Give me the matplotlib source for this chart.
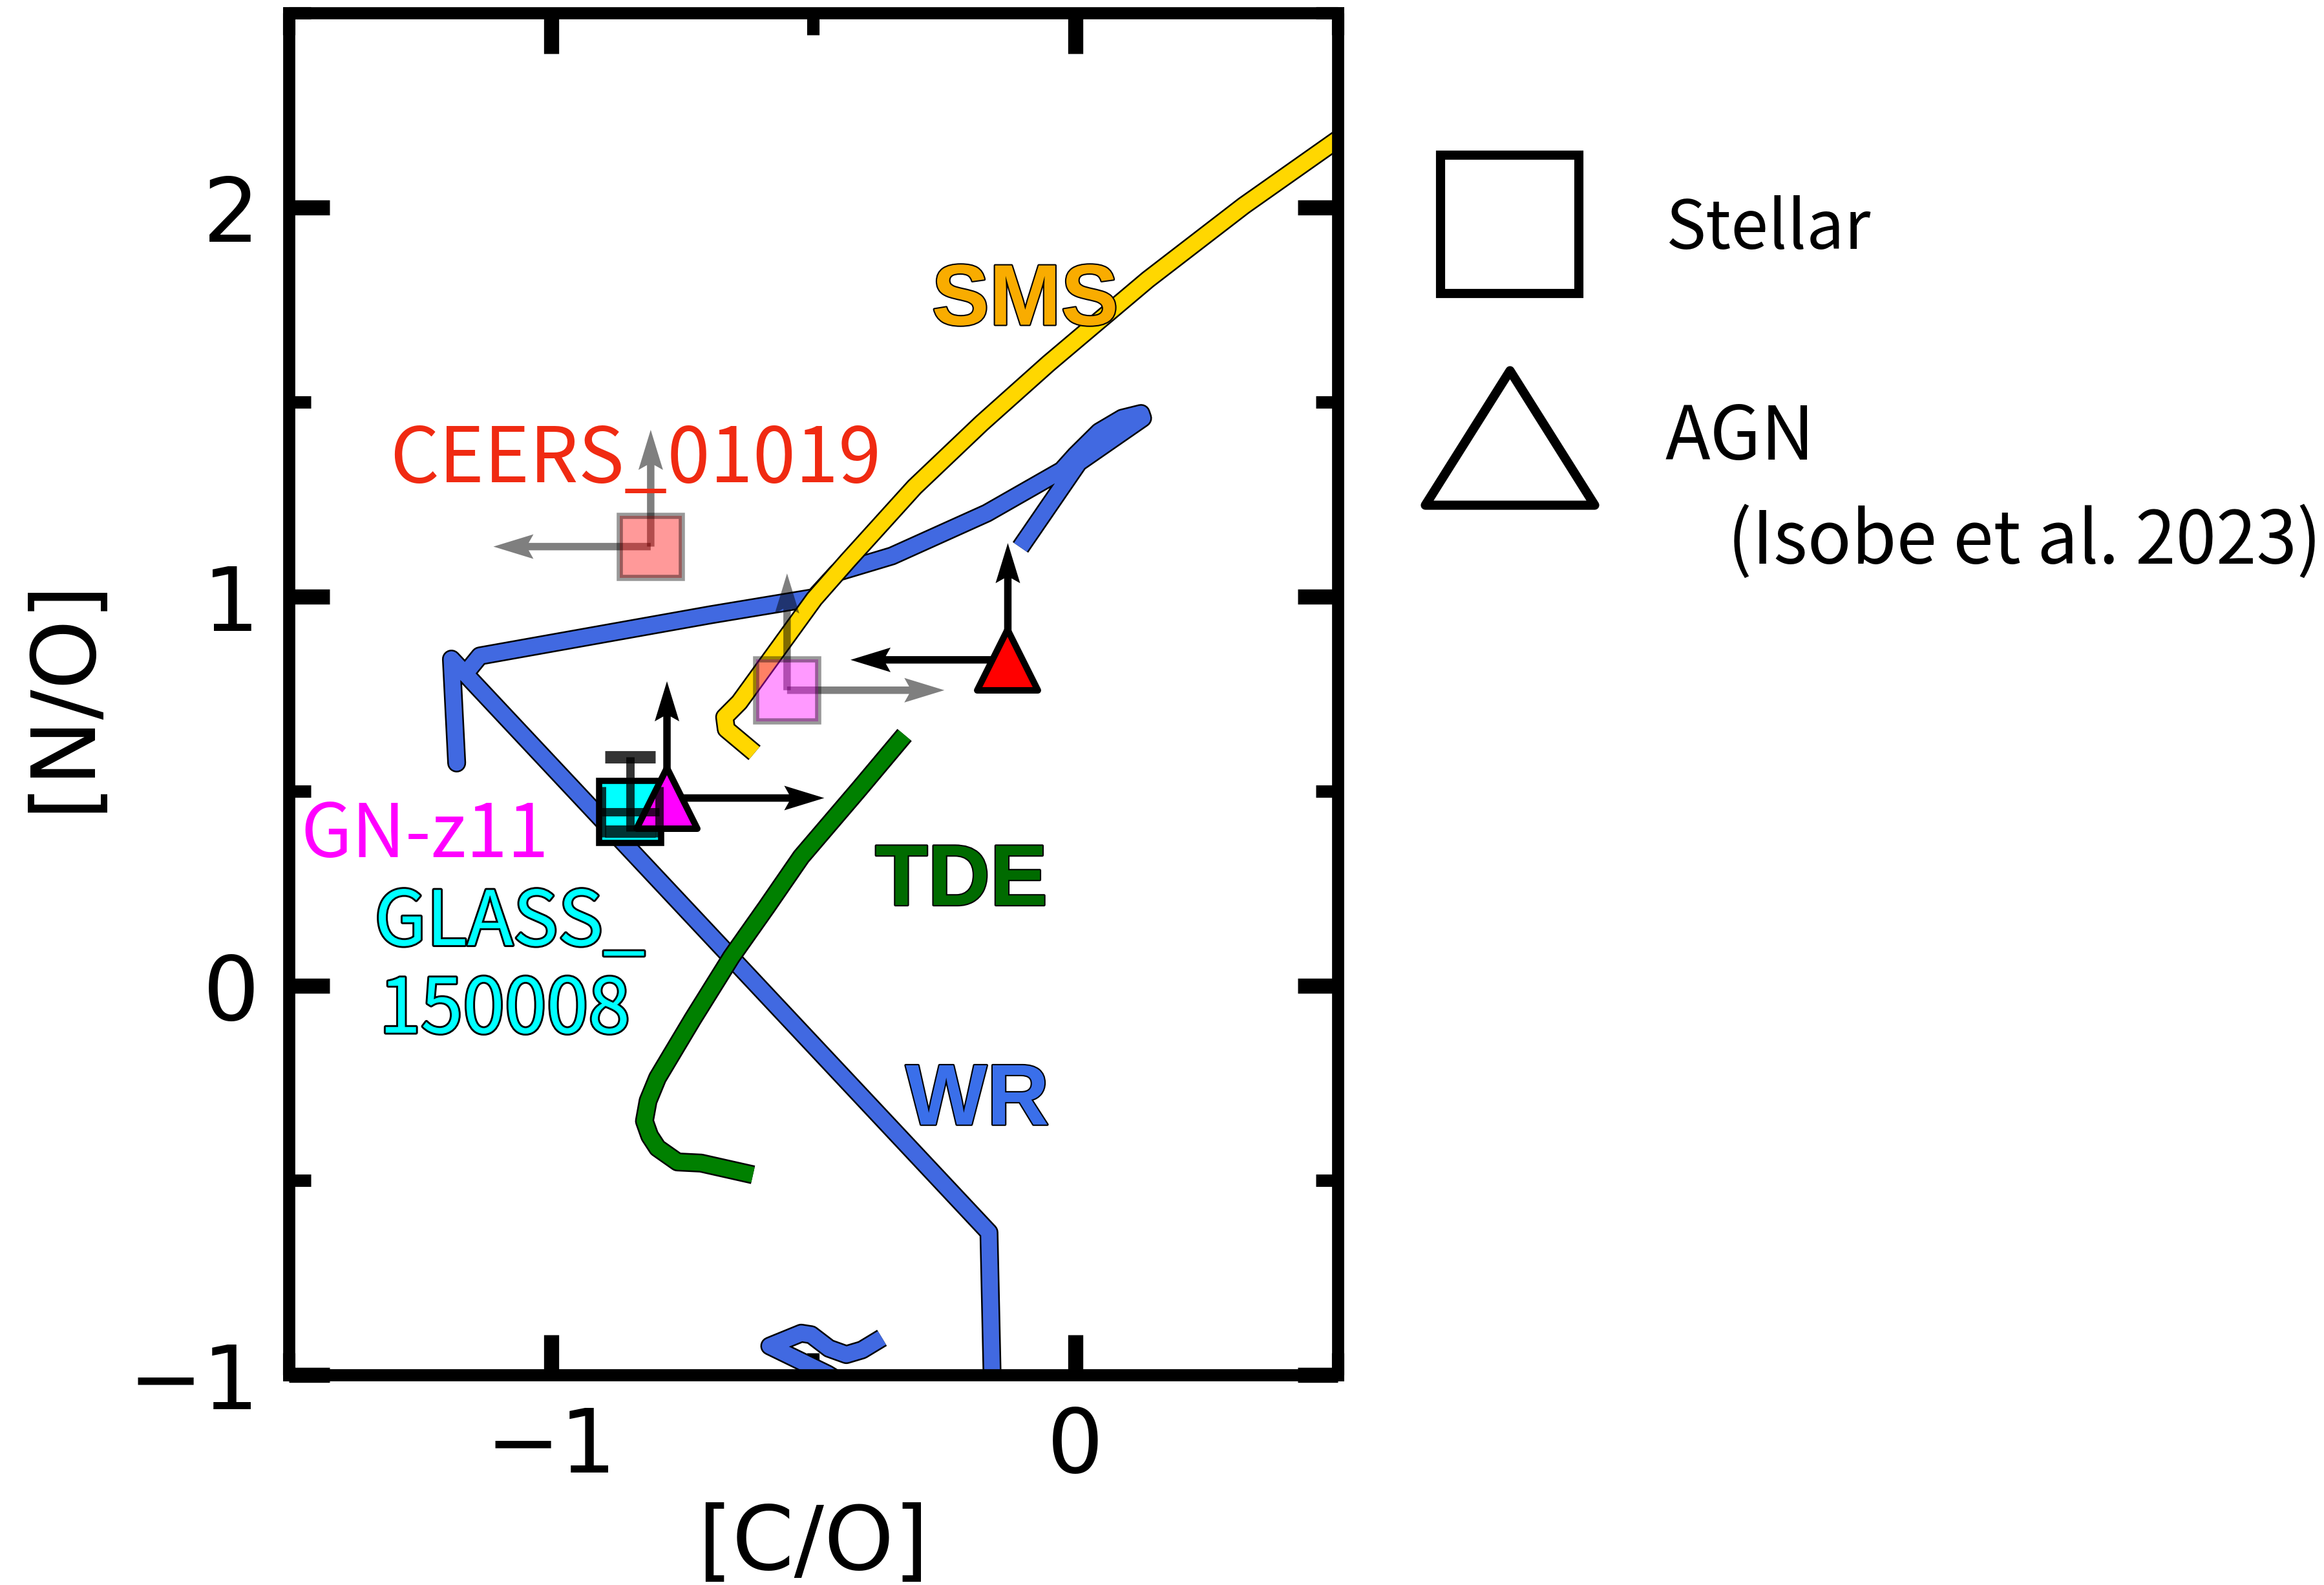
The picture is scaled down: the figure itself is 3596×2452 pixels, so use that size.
import matplotlib
matplotlib.use("Agg")
import matplotlib.pyplot as plt
import matplotlib.patheffects as pe
from matplotlib.markers import MarkerStyle
from matplotlib.path import Path
from matplotlib.ticker import MultipleLocator

# ---- model tracks in the [C/O] - [N/O] plane ----
# Wolf-Rayet: upper branch with the loop and its short downward branch
wr_upper_co = [-1.165, -1.136, -0.695, -0.498, -0.454, -0.350, -0.169, -0.026,
               0.000, 0.045, 0.089, 0.125, 0.128, 0.006, -0.105]
wr_upper_no = [0.800, 0.848, 0.954, 0.998, 1.063, 1.105, 1.215, 1.325,
               1.364, 1.424, 1.459, 1.471, 1.459, 1.345, 1.127]
# Wolf-Rayet: short tail, long diagonal and the drop below the frame
wr_lower_co = [-1.180, -1.190, -0.165, -0.158]
wr_lower_no = [0.573, 0.840, -0.633, -1.060]
# Wolf-Rayet: small wiggle at the bottom
wr_wiggle_co = [-0.445, -0.473, -0.583, -0.523, -0.504, -0.470, -0.437, -0.407, -0.369]
wr_wiggle_no = [-1.020, -0.997, -0.925, -0.892, -0.896, -0.931, -0.947, -0.935, -0.904]

tde_co = [-0.326, -0.412, -0.523, -0.589, -0.656, -0.730, -0.797, -0.815, -0.822,
          -0.812, -0.797, -0.759, -0.714, -0.615]
tde_no = [0.645, 0.507, 0.332, 0.203, 0.075, -0.085, -0.236, -0.295, -0.347,
          -0.385, -0.416, -0.452, -0.455, -0.485]

sms_co = [-0.612, -0.666, -0.669, -0.641, -0.498, -0.434, -0.307, -0.179, -0.051,
          0.050, 0.138, 0.321, 0.500, 0.600]
sms_no = [0.599, 0.660, 0.691, 0.729, 0.995, 1.093, 1.282, 1.446, 1.600,
          1.715, 1.815, 2.005, 2.175, 2.260]

# ---- observed galaxies ----
# stellar (squares): CEERS_01019, GN-z11, GLASS_150008
star_co = [-0.810, -0.550, -0.849]
star_no = [1.129, 0.760, 0.448]
star_color = ["red", "magenta", "cyan"]
star_alpha = [0.4, 0.4, 1.0]
star_co_lim = [-1, 1, 0]      # -1: upper limit, +1: lower limit, 0: measured
star_no_lim = [1, 1, 0]

glass_co_err = [[0.055], [0.055]]
glass_no_err = [[0.051], [0.141]]

# AGN (triangles): CEERS_01019, GN-z11
agn_co = [-0.129, -0.779]
agn_no = [0.838, 0.483]
agn_color = ["red", "magenta"]
agn_co_lim = [-1, 1]
agn_no_lim = [1, 1]

limit_len = 0.3

fig = plt.figure(figsize=(3596 / 300, 2453 / 300), dpi=300)
ax = fig.add_axes([0.1243, 0.1323, 0.4513, 0.8591])
ax.set_xlim(-1.5, 0.5)
ax.set_ylim(-1, 2.5)


def draw_tracks(segments, color, z):
    # black underlay first so joined pieces share one outline
    for co, no, cap in segments:
        ax.plot(co, no, color="black", lw=7.0, solid_joinstyle="round",
                solid_capstyle=cap, zorder=z)
    for co, no, cap in segments:
        ax.plot(co, no, color=color, lw=5.8, solid_joinstyle="round",
                solid_capstyle=cap, zorder=z + 0.01)


draw_tracks([(wr_upper_co, wr_upper_no, "butt"),
             (wr_lower_co, wr_lower_no, "round"),
             (wr_wiggle_co, wr_wiggle_no, "butt")], "royalblue", 2.0)
draw_tracks([(tde_co, tde_no, "butt")], "green", 2.1)
draw_tracks([(sms_co, sms_no, "butt")], "gold", 2.2)

# pixel scale of one data unit, used to keep arrow heads the same shape
p0 = ax.transData.transform((0, 0))
px_x = ax.transData.transform((1, 0))[0] - p0[0]
px_y = ax.transData.transform((0, 1))[1] - p0[1]


def limit_arrow(x, y, dx, dy, color, alpha, z):
    shaft, head_w, head_l = 11.5, 38.0, 62.0
    if dx != 0:
        w, hw, hl = shaft / px_y, head_w / px_y, head_l / px_x
    else:
        w, hw, hl = shaft / px_x, head_w / px_x, head_l / px_y
    ax.arrow(x, y, dx, dy, width=w, head_width=hw, head_length=hl,
             overhang=0.12, length_includes_head=True, fc=color, ec="none",
             alpha=alpha, zorder=z)


for co, no, cl, nl in zip(star_co, star_no, star_co_lim, star_no_lim):
    if cl != 0:
        limit_arrow(co, no, cl * limit_len, 0, "black", 0.5, 3)
    if nl != 0:
        limit_arrow(co, no, 0, nl * limit_len, "black", 0.5, 3)

for co, no, cl, nl in zip(agn_co, agn_no, agn_co_lim, agn_no_lim):
    limit_arrow(co, no, cl * limit_len, 0, "black", 1.0, 3.1)
    limit_arrow(co, no, 0, nl * limit_len, "black", 1.0, 3.1)

for co, no, c, a in zip(star_co, star_no, star_color, star_alpha):
    ax.plot(co, no, "s", ms=23.2, mfc=c, mec="black", mew=2.3, alpha=a,
            zorder=3.5)

tri = MarkerStyle("^", joinstyle="round")
for co, no, c in zip(agn_co, agn_no, agn_color):
    ax.plot(co, no, marker=tri, ms=22.5, mfc=c, mec="black", mew=2.4, zorder=4)

# GLASS_150008 uncertainties
ax.errorbar(star_co[2], star_no[2], xerr=glass_co_err, fmt="none",
            ecolor="black", alpha=0.8, elinewidth=3.1, capsize=9.3,
            capthick=3.1, zorder=5)
ax.errorbar(star_co[2], star_no[2], yerr=glass_no_err, fmt="none",
            ecolor="black", alpha=0.8, elinewidth=3.1, capsize=9.3,
            capthick=4.6, zorder=5)

# ---- labels inside the frame ----
jp = ["Noto Sans CJK JP", "DejaVu Sans"]
bold = ["Liberation Sans", "DejaVu Sans"]
thin_edge = [pe.withStroke(linewidth=1.0, foreground="black")]
cyan_edge = [pe.withStroke(linewidth=1.4, foreground="black")]

ax.text(-1.308, 1.296, "CEERS_01019", color="#F02A12", fontsize=28.6,
        family=jp, zorder=6)
ax.text(-1.477, 0.332, "GN-z11", color="magenta", fontsize=27.5, family=jp, zorder=6)
ax.text(-1.337, 0.105, "GLASS_", color="cyan", fontsize=28, family=jp,
        path_effects=cyan_edge, zorder=6)
ax.text(-1.328, -0.120, "150008", color="cyan", fontsize=28, family=jp,
        path_effects=cyan_edge, zorder=6)

ax.text(-0.274, 1.699, "SMS", color="#F9AC00", fontsize=32, weight="bold",
        family=bold, path_effects=thin_edge, zorder=6)
ax.text(-0.382, 0.208, "TDE", color="#006B00", fontsize=32, weight="bold",
        family=bold, path_effects=thin_edge, zorder=6)
ax.text(-0.324, -0.356, "WR", color="#3A6FEA", fontsize=32, weight="bold",
        family=bold, path_effects=thin_edge, zorder=6)

# ---- axes styling ----
ax.set_xlabel("[C/O]", fontsize=33, labelpad=4)
ax.set_ylabel("[N/O]", fontsize=33, labelpad=8)
ax.xaxis.set_major_locator(MultipleLocator(1))
ax.xaxis.set_minor_locator(MultipleLocator(0.5))
ax.yaxis.set_major_locator(MultipleLocator(1))
ax.yaxis.set_minor_locator(MultipleLocator(0.5))
ax.tick_params(which="both", direction="in", top=True, right=True, labelsize=33)
ax.tick_params(which="major", length=15, width=5.6, pad=11)
ax.tick_params(which="minor", length=8.2, width=4.6)
for sp in ax.spines.values():
    sp.set_linewidth(4.5)

# ---- marker key on the right ----
fig.lines.append(plt.Line2D([0.6496], [0.8581], marker="s", ms=51.4, mfc="white",
                            mec="black", mew=3.4, transform=fig.transFigure))
key_path = Path([(-1, -0.794), (1, -0.794), (0, 0.794), (-1, -0.794)],
                [Path.MOVETO, Path.LINETO, Path.LINETO, Path.CLOSEPOLY])
key_tri = MarkerStyle(key_path, joinstyle="miter")
fig.lines.append(plt.Line2D([0.6496], [0.7236], marker=key_tri, ms=62.9, mfc="white",
                            mec="black", mew=3.4, transform=fig.transFigure))
fig.text(0.7166, 0.8432, "Stellar", fontsize=25, family=jp)
fig.text(0.7166, 0.7101, "AGN", fontsize=27.5, family=jp)
fig.text(0.7432, 0.6445, "(Isobe et al. 2023)", fontsize=27, family=jp)

fig.savefig("out.png", dpi=300)
